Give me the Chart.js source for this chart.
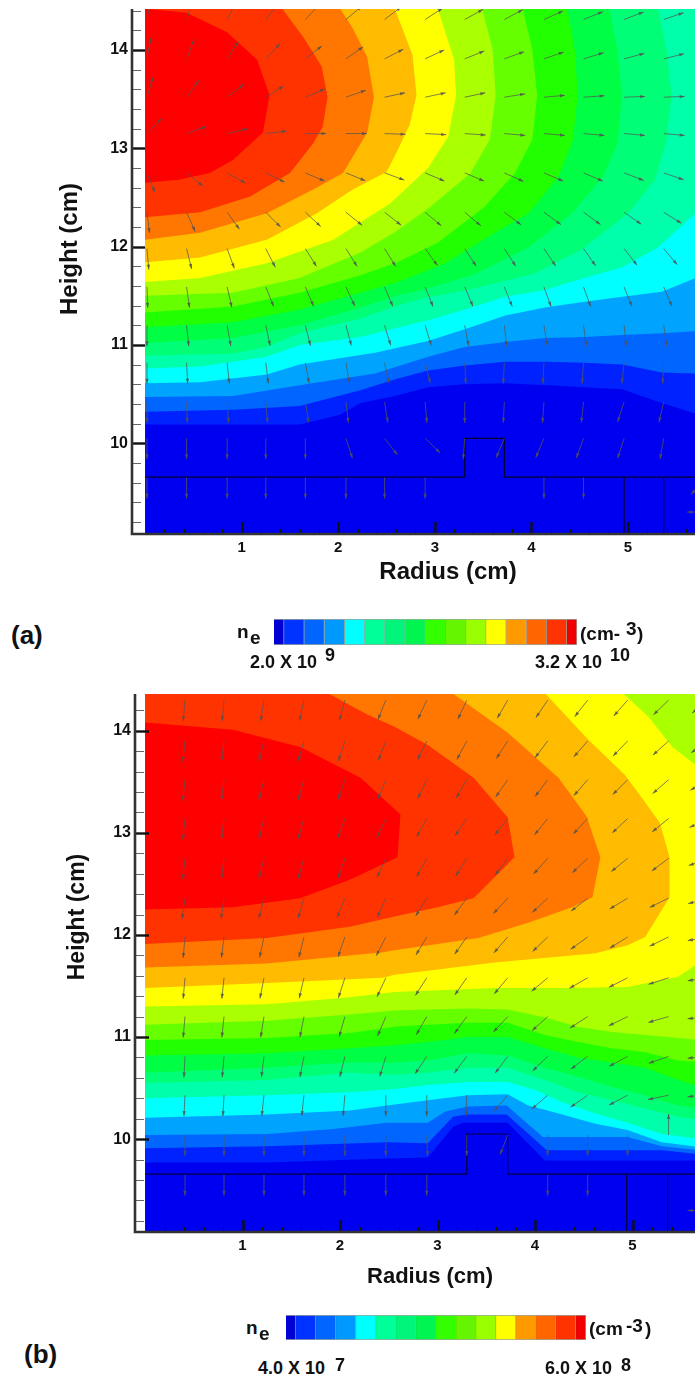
<!DOCTYPE html>
<html>
<head>
<meta charset="utf-8">
<script src="https://cdn.jsdelivr.net/npm/chart.js@4/dist/chart.umd.min.js"></script>
<style>
  html, body { margin: 0; padding: 0; background: #fff; }
  #page { position: relative; width: 695px; height: 1380px; overflow: hidden; font-family: "Liberation Sans", Arial, sans-serif; font-weight: bold; color: #111; }
  canvas { position: absolute; left: 0; }
  .t { position: absolute; white-space: nowrap; line-height: 1; }
</style>
</head>
<body>
<div id="page">
  <canvas id="chartA" width="695" height="600" style="top:0"></canvas>
  <canvas id="barA" width="303" height="26" style="left:274px;top:619px"></canvas>
  <canvas id="chartB" width="695" height="620" style="top:680px"></canvas>
  <canvas id="barB" width="300" height="25" style="left:286px;top:1315px"></canvas>

  <span class="t" style="left:11px;top:622px;font-size:26px">(a)</span>
  <span class="t" style="left:237px;top:622px;font-size:19px">n</span>
  <span class="t" style="left:250px;top:628px;font-size:19px">e</span>
  <span class="t" style="left:580px;top:624px;font-size:19px">(cm-</span>
  <span class="t" style="left:626px;top:619px;font-size:19px">3</span>
  <span class="t" style="left:637px;top:624px;font-size:19px">)</span>
  <span class="t" style="left:250px;top:653px;font-size:18px">2.0 X 10</span>
  <span class="t" style="left:325px;top:646px;font-size:18px">9</span>
  <span class="t" style="left:535px;top:653px;font-size:18px">3.2 X 10</span>
  <span class="t" style="left:610px;top:646px;font-size:18px">10</span>

  <span class="t" style="left:24px;top:1341px;font-size:26px">(b)</span>
  <span class="t" style="left:246px;top:1318px;font-size:19px">n</span>
  <span class="t" style="left:259px;top:1324px;font-size:19px">e</span>
  <span class="t" style="left:589px;top:1319px;font-size:19px">(cm</span>
  <span class="t" style="left:626px;top:1316px;font-size:19px">-3</span>
  <span class="t" style="left:645px;top:1319px;font-size:19px">)</span>
  <span class="t" style="left:258px;top:1359px;font-size:18px">4.0 X 10</span>
  <span class="t" style="left:335px;top:1356px;font-size:18px">7</span>
  <span class="t" style="left:545px;top:1359px;font-size:18px">6.0 X 10</span>
  <span class="t" style="left:621px;top:1356px;font-size:18px">8</span>
</div>

<script>
// band colours, lowest density first
const bandColors = ['#0000f0', '#0022ff', '#0066ff', '#00a4ff', '#00ffff', '#00ffaa', '#00ff77', '#00ff44',
  '#22ff00', '#66ff00', '#aaff00', '#ffff00', '#ffbb00', '#ff7700', '#ff3300', '#ff0000']
const legendColors = ['#0000d4', '#0033ff', '#0066ff', '#0099ff', '#00ffff', '#00ff99', '#00f57a', '#00f550',
  '#33ff00', '#66f500', '#99ff00', '#ffff00', '#ff9900', '#ff6600', '#ff3300', '#f00000']
const legendWidths = [0.5, 1, 1, 1, 1, 1, 1, 1, 1, 1, 1, 1, 1, 1, 1, 0.5]

const rTicks = [1, 2, 3, 4, 5]
const zTicks = [10, 11, 12, 13, 14]

// contour lines of panel (a), each as [radius, height], starting on the axis
const contoursA = [
  [[0, 9], [5.8, 9]],
  [[0, 10.19], [1.6, 10.19], [2.02, 10.29], [2.23, 10.41], [2.59, 10.48], [2.93, 10.57], [3.31, 10.6], [3.73, 10.61], [4.17, 10.59], [4.55, 10.57], [4.94, 10.55], [5.35, 10.41], [5.7, 10.3]],
  [[0, 10.32], [0.91, 10.34], [1.6, 10.38], [2.23, 10.54], [2.59, 10.65], [2.93, 10.74], [3.31, 10.79], [3.73, 10.83], [4.14, 10.83], [4.55, 10.82], [4.94, 10.8], [5.35, 10.72], [5.7, 10.71]],
  [[0, 10.47], [0.91, 10.48], [1.6, 10.59], [2.38, 10.71], [2.93, 10.88], [3.31, 10.98], [3.73, 11.03], [4.14, 11.07], [4.55, 11.08], [4.94, 11.1], [5.35, 11.12], [5.7, 11.14]],
  [[0, 10.61], [0.57, 10.62], [1.26, 10.7], [1.6, 10.8], [2.38, 10.92], [2.93, 11.04], [3.31, 11.16], [3.73, 11.3], [4.14, 11.38], [4.55, 11.44], [4.94, 11.49], [5.35, 11.54], [5.7, 11.68]],
  [[0, 10.76], [0.57, 10.78], [1.26, 10.88], [1.6, 11], [2.23, 11.08], [2.59, 11.17], [2.93, 11.25], [3.28, 11.35], [3.73, 11.49], [4.14, 11.56], [4.55, 11.68], [4.94, 11.79], [5.31, 11.99], [5.7, 12.34]],
  [[0, 10.89], [0.91, 10.91], [1.25, 10.98], [1.6, 11.12], [2.23, 11.27], [2.64, 11.41], [2.9, 11.48], [3.34, 11.56], [4.04, 11.73], [4.52, 11.97], [5, 12.34], [5.28, 12.68], [5.4, 13.09], [5.45, 13.54], [5.4, 14], [5.31, 14.42]],
  [[0, 11.02], [0.91, 11.07], [1.6, 11.2], [2.23, 11.38], [2.64, 11.51], [2.87, 11.56], [3.39, 11.71], [3.97, 11.99], [4.42, 12.34], [4.74, 12.71], [4.89, 13.05], [4.94, 13.54], [4.89, 14], [4.81, 14.42]],
  [[0, 11.18], [0.91, 11.23], [1.6, 11.36], [2.23, 11.53], [2.59, 11.63], [3.11, 11.83], [3.62, 12.14], [3.97, 12.34], [4.28, 12.71], [4.43, 13.09], [4.48, 13.54], [4.45, 14], [4.37, 14.42]],
  [[0, 11.33], [0.91, 11.39], [1.6, 11.53], [2.23, 11.71], [2.59, 11.83], [3.03, 12.04], [3.51, 12.4], [3.83, 12.75], [4.01, 13.09], [4.06, 13.54], [4.01, 14], [3.91, 14.42]],
  [[0, 11.5], [0.91, 11.53], [1.6, 11.68], [2.23, 11.94], [2.59, 12.15], [2.95, 12.4], [3.37, 12.75], [3.57, 13.09], [3.63, 13.54], [3.6, 14], [3.49, 14.42]],
  [[0, 11.64], [0.57, 11.68], [1.26, 11.83], [1.95, 12.07], [2.54, 12.44], [2.93, 12.8], [3.14, 13.12], [3.22, 13.54], [3.2, 13.9], [3.03, 14.42]],
  [[0, 11.84], [0.57, 11.89], [1.26, 12.07], [1.78, 12.34], [2.15, 12.58], [2.5, 12.76], [2.59, 12.93], [2.74, 13.24], [2.81, 13.54], [2.77, 13.95], [2.59, 14.41]],
  [[0, 12.07], [0.57, 12.14], [1.26, 12.34], [1.74, 12.58], [2.05, 12.75], [2.3, 13.16], [2.37, 13.52], [2.3, 13.93], [2.15, 14.22], [2.02, 14.42]],
  [[0, 12.3], [0.57, 12.35], [1.09, 12.51], [1.5, 12.75], [1.74, 13.05], [1.84, 13.22], [1.89, 13.52], [1.83, 13.83], [1.64, 14.13], [1.42, 14.42]],
  [[0, 12.65], [0.35, 12.68], [0.67, 12.75], [0.91, 12.88], [1.22, 13.16], [1.29, 13.54], [1.16, 13.9], [0.85, 14.18], [0.43, 14.38], [0, 14.42]]
]

// contour lines of panel (b)
const contoursB = [
  [[0, 9], [5.8, 9]],
  [[0, 9.77], [1.25, 9.77], [2.48, 9.81], [2.9, 9.82], [3.16, 10.12], [3.26, 10.16], [3.72, 10.16], [4.1, 9.79], [5.7, 9.79]],
  [[0, 9.91], [1.25, 9.93], [2.48, 9.97], [2.9, 9.96], [3.16, 10.22], [3.3, 10.24], [3.71, 10.24], [4.12, 9.89], [4.95, 9.89], [5.3, 9.89], [5.7, 9.85]],
  [[0, 10.04], [1.25, 10.05], [1.93, 10.1], [2.48, 10.16], [2.9, 10.16], [3.08, 10.27], [3.31, 10.32], [3.71, 10.33], [4.08, 10.02], [4.95, 10.02], [5.3, 9.93], [5.7, 9.89]],
  [[0, 10.21], [1.25, 10.24], [2.1, 10.28], [2.56, 10.34], [2.9, 10.38], [3.31, 10.43], [3.72, 10.44], [3.93, 10.33], [4.13, 10.28], [4.62, 10.15], [4.95, 10.09], [5.3, 9.97], [5.7, 9.92]],
  [[0, 10.4], [1.25, 10.43], [2.1, 10.46], [2.56, 10.49], [2.9, 10.53], [3.31, 10.56], [3.72, 10.56], [4, 10.48], [4.28, 10.36], [4.62, 10.25], [4.95, 10.16], [5.3, 10.05], [5.7, 10]],
  [[0, 10.55], [1.25, 10.58], [2.1, 10.65], [2.56, 10.63], [2.9, 10.65], [3.31, 10.7], [3.72, 10.7], [4.1, 10.58], [4.44, 10.46], [4.79, 10.38], [5.13, 10.3], [5.47, 10.22], [5.7, 10.19]],
  [[0, 10.65], [1.25, 10.7], [2.1, 10.75], [2.56, 10.75], [2.9, 10.77], [3.31, 10.84], [3.72, 10.82], [4.1, 10.7], [4.44, 10.61], [4.79, 10.51], [5.13, 10.43], [5.47, 10.33], [5.7, 10.3]],
  [[0, 10.82], [1.25, 10.84], [2.1, 10.89], [2.56, 10.92], [2.9, 10.95], [3.31, 11], [3.72, 11], [4.1, 10.89], [4.44, 10.8], [4.79, 10.75], [5.13, 10.7], [5.47, 10.58], [5.7, 10.51]],
  [[0, 10.97], [1.25, 10.99], [2.1, 11.04], [2.56, 11.1], [2.9, 11.12], [3.31, 11.14], [3.72, 11.14], [4.1, 11.02], [4.44, 10.95], [4.79, 10.89], [5.13, 10.85], [5.47, 10.77], [5.7, 10.75]],
  [[0, 11.12], [1.25, 11.16], [2.1, 11.22], [2.56, 11.26], [2.9, 11.27], [3.31, 11.28], [3.72, 11.27], [4.1, 11.19], [4.44, 11.1], [4.79, 11.05], [5.13, 11.02], [5.47, 10.99], [5.7, 10.97]],
  [[0, 11.3], [1.25, 11.32], [2.1, 11.39], [2.56, 11.44], [3.59, 11.48], [4.33, 11.48], [4.95, 11.49], [5.47, 11.59], [5.75, 11.77], [5.75, 13.59], [5.41, 13.84], [5.16, 14.14], [4.9, 14.37]],
  [[0, 11.48], [1.25, 11.53], [2.44, 11.58], [2.56, 11.61], [3.59, 11.73], [4.62, 11.82], [4.95, 11.9], [5.13, 11.98], [5.38, 12.37], [5.38, 12.76], [5.28, 13.1], [5.06, 13.39], [4.92, 13.57], [4.55, 13.91], [4.1, 14.37]],
  [[0, 11.68], [1.25, 11.72], [2.44, 11.83], [2.56, 11.85], [3.42, 11.97], [3.93, 12.12], [4.38, 12.27], [4.59, 12.37], [4.67, 12.76], [4.53, 13.16], [4.24, 13.54], [3.72, 13.98], [3.15, 14.37]],
  [[0, 11.91], [1.25, 11.97], [2.1, 12.08], [2.56, 12.18], [3, 12.27], [3.37, 12.36], [3.79, 12.76], [3.72, 13.15], [3.37, 13.54], [2.9, 13.86], [2.56, 14.04], [2.28, 14.16], [1.87, 14.37]],
  [[0, 12.25], [0.9, 12.27], [1.59, 12.36], [2.1, 12.54], [2.59, 12.76], [2.62, 13.18], [2.21, 13.54], [1.59, 13.84], [0.9, 14.01], [0, 14.08]]
]

// the electrode outline
const outlineRA = [0, 3.31, 3.31, 3.72, 3.72, 4.96, 4.96, 4.96, 5.37, 5.37, 5.37, 5.8]
const outlineZA = [9.656, 9.656, 10.05, 10.05, 9.656, 9.656, 9.08, 9.656, 9.656, 9.08, 9.656, 9.656]
const outlineRB = [0, 3.3, 3.3, 3.72, 3.72, 4.94, 4.94, 4.94, 5.36, 5.36, 5.36, 5.8]
const outlineZB = [9.657, 9.657, 10.05, 10.05, 9.657, 9.657, 9.09, 9.657, 9.657, 9.09, 9.657, 9.657]

// velocity field: tails on a grid, direction in degrees (0 = outward, 90 = up)
const arrowRA = [0.02, 0.43, 0.85, 1.25, 1.66, 2.08, 2.48, 2.9, 3.31, 3.72, 4.13, 4.54, 4.96, 5.37]
const arrowZA = [14.31, 13.91, 13.52, 13.15, 12.75, 12.35, 11.98, 11.59, 11.2, 10.82, 10.42, 10.05, 9.65]
const arrowAngleA = [
  [80, 72, 63, 52, 47, 40, 37, 33, 29, 28, 24, 22, 21, 19],
  [80, 69, 57, 47, 38, 35, 27, 25, 22, 20, 19, 17, 15, 14],
  [73, 54, 38, 32, 23, 19, 12, 12, 12, 9, 5, 4, 2, 2],
  [46, 20, 13, 7, 0, 0, -2, -3, -4, -5, -5, -5, -5, -5],
  [-68, -39, -29, -26, -23, -22, -20, -23, -23, -24, -23, -23, -21, -19],
  [-83, -66, -54, -45, -43, -39, -38, -40, -40, -37, -36, -36, -35, -32],
  [-85, -76, -70, -63, -58, -58, -58, -54, -57, -57, -56, -55, -52, -50],
  [-88, -82, -77, -68, -67, -65, -67, -68, -67, -68, -70, -70, -68, -67],
  [-90, -84, -80, -78, -76, -75, -73, -73, -79, -84, -81, -82, -84, -82],
  [-90, -87, -84, -83, -80, -80, -78, -76, -87, -93, -93, -94, -96, -93],
  [-90, -88, -86, -85, -81, -83, -81, -85, -90, -93, -94, -96, -108, -103],
  [-90, -90, -90, -90, -90, -72, -52, -44, -94, -113, -113, -110, -108, -100],
  [-90, -90, -90, -90, -90, -90, -90, -90, null, null, -90, -90, null, null]
]
const arrowExtraA = [[5.78, 9.65, -125], [5.83, 9.3, 180]]

const arrowRB = [0.41, 0.81, 1.22, 1.63, 2.05, 2.47, 2.89, 3.3, 3.72, 4.13, 4.54, 4.95, 5.37, 5.78]
const arrowZB = [14.3, 13.9, 13.52, 13.14, 12.75, 12.36, 11.98, 11.58, 11.2, 10.81, 10.43, 10.04, 9.65]
const arrowAngleB = [
  [-95, -95, -99, -102, -105, -112, -115, -115, -120, -124, -128, -131, -136, -142],
  [-96, -97, -104, -106, -108, -111, -116, -118, -123, -127, -131, -134, -138, -146],
  [-96, -97, -104, -106, -109, -112, -116, -120, -125, -127, -131, -135, -139, -150],
  [-96, -97, -104, -106, -110, -116, -119, -124, -128, -129, -133, -137, -141, -155],
  [-96, -97, -104, -106, -109, -115, -119, -122, -127, -132, -137, -141, -143, -160],
  [-98, -98, -104, -106, -112, -114, -122, -126, -133, -137, -142, -149, -154, -165],
  [-95, -97, -102, -104, -109, -117, -121, -125, -131, -136, -144, -148, -154, -170],
  [-95, -96, -101, -103, -108, -115, -123, -125, -130, -140, -150, -153, -162, -172],
  [-95, -96, -99, -101, -106, -113, -120, -126, -133, -138, -147, -154, -164, -174],
  [-93, -95, -97, -101, -104, -107, -124, -127, -127, -136, -143, -152, -161, -175],
  [-93, -93, -96, -96, -95, -90, -90, -92, -131, -139, -145, -152, -168, -176],
  [-90, -90, -90, -90, -90, -90, -88, -90, -111, -90, -90, -90, 90, null],
  [-90, -90, -90, -90, -90, -90, -90, null, null, -90, -90, null, null, null]
]
const arrowExtraB = [[5.78, 9.3, 180]]

// contour tables -> closed polygons reaching past the top edge
function contourDatasets(contours) {
  let sets = []
  for (let i = 0; i < contours.length; i++) {
    let pts = contours[i].map(function (p) { return { x: p[0], y: p[1] } })
    pts.push({ x: contours[i][contours[i].length - 1][0], y: 15 })
    pts.push({ x: 0, y: 15 })
    sets.push({
      data: pts,
      showLine: true,
      fill: 'shape',
      backgroundColor: bandColors[i],
      borderWidth: 0,
      pointRadius: 0,
      tension: 0,
      order: contours.length - i + 1
    })
  }
  return sets
}

function drawArrow(ctx, x, y, deg) {
  let len = 21
  let a = deg * Math.PI / 180
  let ux = Math.cos(a), uy = -Math.sin(a)
  ctx.beginPath()
  ctx.moveTo(x, y)
  ctx.lineTo(x + ux * len, y + uy * len)
  ctx.stroke()
  ctx.beginPath()
  ctx.moveTo(x + ux * len, y + uy * len)
  ctx.lineTo(x + ux * (len - 5) - uy * 1.7, y + uy * (len - 5) + ux * 1.7)
  ctx.lineTo(x + ux * (len - 5) + uy * 1.7, y + uy * (len - 5) - ux * 1.7)
  ctx.closePath()
  ctx.fill()
}

function renderPanel(target, p) {
  let outline = p.outlineR.map(function (r, i) { return { x: r, y: p.outlineZ[i] } })
  let datasets = contourDatasets(p.contours)
  datasets.push({
    data: outline,
    showLine: true,
    fill: false,
    borderColor: p.outlineColor,
    borderWidth: 1.2,
    pointRadius: 0,
    tension: 0,
    order: 1
  })

  const overlay = {
    id: 'overlay',
    afterDatasetsDraw(chart) {
      let ctx = chart.ctx
      let xs = chart.scales.x, ys = chart.scales.y
      let area = chart.chartArea
      // arrows, clipped to the filled part of the plot
      ctx.save()
      ctx.beginPath()
      ctx.rect(xs.getPixelForValue(0), area.top, area.right - xs.getPixelForValue(0), area.bottom - area.top)
      ctx.clip()
      ctx.strokeStyle = 'rgba(85,85,85,0.75)'
      ctx.fillStyle = 'rgba(80,80,80,0.8)'
      ctx.lineWidth = 1
      for (let j = 0; j < p.arrowZ.length; j++) {
        for (let i = 0; i < p.arrowR.length; i++) {
          let deg = p.arrowAngle[j][i]
          if (deg === null) continue
          drawArrow(ctx, xs.getPixelForValue(p.arrowR[i]), ys.getPixelForValue(p.arrowZ[j]), deg)
        }
      }
      p.arrowExtra.forEach(function (a) {
        drawArrow(ctx, xs.getPixelForValue(a[0]), ys.getPixelForValue(a[1]), a[2])
      })
      ctx.restore()

      // tecplot style axes: ticks point into the plot
      ctx.save()
      for (let z = 9.2; z < ys.max; z += 0.2) {
        let y = Math.round(ys.getPixelForValue(z)) + 0.5
        let major = zTicks.indexOf(Math.round(z * 10) / 10) >= 0
        ctx.lineWidth = major ? 2.4 : 1
        ctx.strokeStyle = major ? '#111' : '#666'
        ctx.beginPath()
        ctx.moveTo(area.left, y)
        ctx.lineTo(area.left + (major ? p.majorLen : 9), y)
        ctx.stroke()
      }
      for (let r = 0.2; r < xs.max; r += 0.2) {
        let x = Math.round(xs.getPixelForValue(r)) + 0.5
        let major = rTicks.indexOf(Math.round(r * 10) / 10) >= 0
        ctx.lineWidth = major ? 2.4 : 1
        ctx.strokeStyle = '#111'
        ctx.beginPath()
        ctx.moveTo(x, area.bottom)
        ctx.lineTo(x, area.bottom - (major ? 12 : 5))
        ctx.stroke()
      }
      ctx.strokeStyle = '#333'
      ctx.lineWidth = 2.6
      ctx.beginPath()
      ctx.moveTo(area.left, area.top)
      ctx.lineTo(area.left, area.bottom)
      ctx.lineTo(area.right, area.bottom)
      ctx.stroke()
      ctx.restore()

      // axis titles sit off-centre in the original
      ctx.save()
      ctx.fillStyle = '#111'
      ctx.textAlign = 'center'
      ctx.textBaseline = 'middle'
      ctx.font = 'bold ' + p.xTitleSize + 'px "Liberation Sans"'
      ctx.fillText('Radius (cm)', p.xTitle[0], p.xTitle[1])
      ctx.font = 'bold ' + p.yTitleSize + 'px "Liberation Sans"'
      ctx.translate(p.yTitle[0], p.yTitle[1])
      ctx.rotate(-Math.PI / 2)
      ctx.fillText('Height (cm)', 0, 0)
      ctx.restore()
    }
  }

  new Chart(document.getElementById(target), {
    type: 'scatter',
    data: { datasets: datasets },
    plugins: [overlay],
    options: {
      responsive: false,
      animation: false,
      layout: { padding: { top: p.top, left: 0, right: 0, bottom: 0 } },
      plugins: { legend: { display: false }, tooltip: { enabled: false } },
      scales: {
        x: {
          type: 'linear',
          min: p.rMin,
          max: p.rMax,
          grid: { display: false, drawTicks: false },
          border: { display: false },
          afterBuildTicks: function (axis) { axis.ticks = rTicks.map(function (v) { return { value: v } }) },
          afterFit: function (axis) { axis.height = p.xHeight; axis.paddingLeft = 0; axis.paddingRight = 0 },
          ticks: { color: '#111', padding: p.xPad, maxRotation: 0, font: { family: 'Liberation Sans', weight: 'bold', size: 15 } }
        },
        y: {
          type: 'linear',
          min: p.zMin,
          max: p.zMax,
          grid: { display: false, drawTicks: false },
          border: { display: false },
          afterBuildTicks: function (axis) { axis.ticks = zTicks.map(function (v) { return { value: v } }) },
          afterFit: function (axis) { axis.width = p.yWidth; axis.paddingTop = 0; axis.paddingBottom = 0 },
          ticks: { color: '#111', padding: 4, font: { family: 'Liberation Sans', weight: 'bold', size: 16 } }
        }
      }
    }
  })
}

function renderLegend(target) {
  let datasets = legendWidths.map(function (w, i) {
    return {
      data: [w],
      backgroundColor: legendColors[i],
      borderColor: 'rgba(40,60,40,0.45)',
      borderWidth: 1,
      barPercentage: 1,
      categoryPercentage: 1
    }
  })
  new Chart(document.getElementById(target), {
    type: 'bar',
    data: { labels: ['ne'], datasets: datasets },
    options: {
      indexAxis: 'y',
      responsive: false,
      animation: false,
      plugins: { legend: { display: false }, tooltip: { enabled: false } },
      scales: {
        x: { stacked: true, display: false, min: 0, max: 15 },
        y: { stacked: true, display: false }
      }
    }
  })
}

renderPanel('chartA', {
  contours: contoursA,
  outlineR: outlineRA, outlineZ: outlineZA, outlineColor: '#000030',
  arrowR: arrowRA, arrowZ: arrowZA, arrowAngle: arrowAngleA, arrowExtra: arrowExtraA,
  rMin: -0.135, rMax: 5.694, zMin: 9.077, zMax: 14.417,
  top: 9, xHeight: 66, yWidth: 132, xPad: 5, majorLen: 13,
  xTitleSize: 24, yTitleSize: 24, xTitle: [448, 572], yTitle: [70, 249]
})
renderPanel('chartB', {
  contours: contoursB,
  outlineR: outlineRB, outlineZ: outlineZB, outlineColor: '#000040',
  arrowR: arrowRB, arrowZ: arrowZB, arrowAngle: arrowAngleB, arrowExtra: arrowExtraB,
  rMin: -0.103, rMax: 5.641, zMin: 9.09, zMax: 14.36,
  top: 14, xHeight: 68, yWidth: 135, xPad: 5, majorLen: 14,
  xTitleSize: 22, yTitleSize: 23, xTitle: [430, 597], yTitle: [78, 237]
})
renderLegend('barA')
renderLegend('barB')
</script>
</body>
</html>
